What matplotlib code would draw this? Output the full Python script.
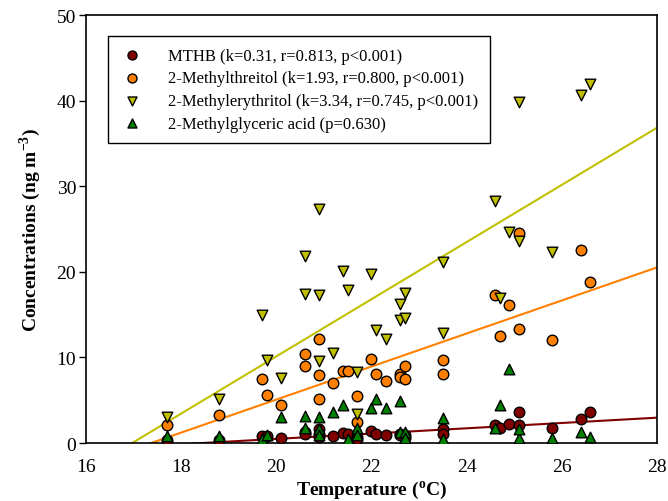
import matplotlib
matplotlib.use("Agg")
import matplotlib.pyplot as plt
import numpy as np

plt.rcParams['font.family'] = ['Liberation Serif', 'DejaVu Serif']
plt.rcParams['mathtext.fontset'] = 'custom'
plt.rcParams['mathtext.rm'] = 'Liberation Serif'
plt.rcParams['mathtext.bf'] = 'Liberation Serif:bold'

temperature = [17.7, 18.8, 19.7, 19.8, 20.1, 20.6, 20.6, 20.9, 20.9, 20.9, 21.2, 21.4,
               21.5, 21.7, 21.7, 22.0, 22.1, 22.3, 22.6, 22.6, 22.7, 22.7, 23.5, 23.5,
               24.6, 24.7, 24.9, 25.1, 25.1, 25.8, 26.4, 26.6]

mthb = [0.3, 0.3, 0.85, 0.8, 0.6, 1.3, 1.05, 1.6, 1.0, 0.7, 0.8, 1.2,
        1.0, 0.7, 0.5, 1.45, 1.05, 0.9, 1.05, 0.9, 0.9, 0.6, 1.6, 1.05,
        2.1, 1.75, 2.2, 3.6, 2.05, 1.8, 2.8, 3.6]

methylthreitol = [2.1, 3.3, 7.5, 5.6, 4.4, 10.4, 9.0, 12.1, 7.9, 5.1, 7.0, 8.45,
                  8.45, 5.5, 2.4, 9.8, 8.1, 7.2, 8.1, 7.7, 9.0, 7.5, 9.7, 8.1,
                  17.3, 12.5, 16.1, 24.5, 13.3, 12.0, 22.6, 18.8]

methylerythritol = [3.0, 5.1, 14.9, 9.7, 7.6, 21.8, 17.4, 27.3, 17.3, 9.6, 10.5, 20.1,
                    17.9, 8.3, 3.4, 19.8, 13.2, 12.1, 16.2, 14.4, 17.5, 14.6, 21.1, 12.9,
                    28.3, 16.9, 24.7, 39.9, 23.6, 22.3, 40.7, 41.9]

methylglyceric = [0.8, 0.8, 0.5, 0.9, 3.0, 3.2, 1.7, 3.0, 1.6, 0.9, 3.6, 4.4,
                  0.5, 1.7, 0.9, 4.05, 5.1, 4.05, 4.9, 1.3, 1.3, 0.55, 2.9, 0.5,
                  1.8, 4.5, 8.7, 0.55, 1.6, 0.55, 1.3, 0.65]

# regression lines: slope, x-intercept (where concentration = 0)
fit_mthb = (0.31, 18.45)
fit_threitol = (1.93, 17.37)
fit_erythritol = (3.34, 16.97)

labels = ["MTHB (k=0.31, r=0.813, p<0.001)",
          "2-Methylthreitol (k=1.93, r=0.800, p<0.001)",
          "2-Methylerythritol (k=3.34, r=0.745, p<0.001)",
          "2-Methylglyceric acid (p=0.630)"]

c_red = '#800000'
c_orange = '#FF8000'
c_yellow = '#C0C000'
c_green = '#008000'

fig = plt.figure(figsize=(6.68, 5.02), dpi=100)
ax = fig.add_axes([0.1287, 0.1155, 0.8548, 0.8525])

xl = np.linspace(16, 28, 200)
for (k, x0), col in [(fit_mthb, c_red), (fit_threitol, c_orange), (fit_erythritol, c_yellow)]:
    ax.plot(xl, k * (xl - x0), color=col, lw=1.5, zorder=2)

ms = 58
ax.scatter(temperature, mthb, s=ms, marker='o', c=c_red, edgecolors='black', linewidths=1, zorder=3, label=labels[0])
ax.scatter(temperature, methylthreitol, s=ms, marker='o', c=c_orange, edgecolors='black', linewidths=1, zorder=4, label=labels[1])
ax.scatter(temperature, methylerythritol, s=ms, marker='v', c=c_yellow, edgecolors='black', linewidths=1, zorder=5, label=labels[2])
ax.scatter(temperature, methylglyceric, s=ms, marker='^', c=c_green, edgecolors='black', linewidths=1, zorder=6, label=labels[3])

ax.set_xlim(16, 28)
ax.set_ylim(0, 50)
ax.set_xticks(range(16, 29, 2))
ax.set_yticks(range(0, 51, 10))
ax.tick_params(axis='y', direction='out', length=5, width=1, labelsize=14, pad=2)
ax.tick_params(axis='x', length=0, labelsize=14, pad=11)
for s in ax.spines.values():
    s.set_linewidth(1.2)

ax.set_xlabel("Temperature ($^{\\mathbf{o}}$C)", fontsize=14, fontweight='bold', labelpad=2)
ax.set_ylabel("Concentrations (ng m$^{\\mathbf{-3}}$)", fontsize=14, fontweight='bold', labelpad=10)

leg = ax.legend(loc='upper left', bbox_to_anchor=(0.0385, 0.951), fontsize=12,
                frameon=True, fancybox=False, edgecolor='black', framealpha=1,
                borderpad=0.7, labelspacing=0.4, handletextpad=1.4, borderaxespad=0,
                handlelength=1.5, scatterpoints=1, markerscale=0.85)
leg.get_frame().set_linewidth(1.0)

fig.savefig("out.png", dpi=100)
